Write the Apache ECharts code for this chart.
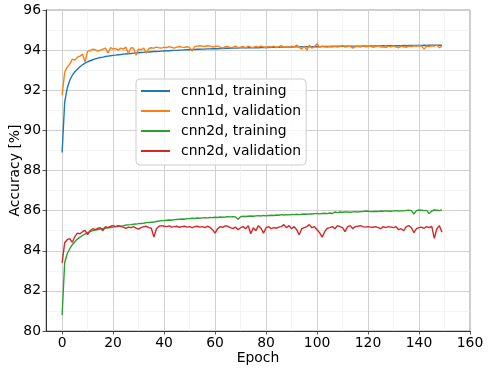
<!DOCTYPE html>
<html><head><meta charset="utf-8">
<script src="https://cdn.jsdelivr.net/npm/echarts@6/dist/echarts.min.js"></script>
<style>html,body{margin:0;padding:0;background:#fff}#c{width:488px;height:371px}</style>
</head><body><div id="c"></div>
<script>
const epochs = Array.from({length:150},(_, i) => i);
const xTicks = [0,20,40,60,80,100,120,140,160];
const yTicks = [80,82,84,86,88,90,92,94,96];
const seriesNames = ['cnn1d, training','cnn1d, validation','cnn2d, training','cnn2d, validation'];
const cnn1dTrain = [88.9,91.4,92.1,92.5,92.75,92.92,93.05,93.17,93.27,93.35,93.42,93.47,93.52,93.56,93.6,93.63,93.65,93.68,93.7,93.72,
93.74,93.75,93.77,93.78,93.8,93.81,93.82,93.83,93.85,93.86,93.87,93.88,93.89,93.9,93.91,93.92,93.93,93.93,93.94,93.95,
93.96,93.97,93.97,93.98,93.99,93.99,94.0,94.0,94.01,94.02,94.02,94.03,94.03,94.04,94.04,94.05,94.05,94.06,94.06,94.07,
94.07,94.07,94.08,94.08,94.09,94.09,94.09,94.1,94.1,94.1,94.11,94.11,94.11,94.12,94.12,94.12,94.13,94.12,94.13,94.13,
94.14,94.13,94.14,94.14,94.15,94.14,94.15,94.15,94.15,94.16,94.15,94.16,94.16,94.16,94.17,94.16,94.17,94.17,94.17,94.17,
94.18,94.17,94.18,94.18,94.18,94.18,94.19,94.18,94.19,94.19,94.19,94.19,94.2,94.19,94.2,94.2,94.2,94.2,94.2,94.21,
94.2,94.21,94.21,94.21,94.21,94.21,94.22,94.21,94.22,94.22,94.22,94.22,94.22,94.22,94.23,94.22,94.23,94.23,94.23,94.23,
94.23,94.23,94.24,94.23,94.24,94.24,94.24,94.24,94.24,94.24];
const cnn1dVal = [91.75,92.9,93.15,93.3,93.55,93.5,93.65,93.7,93.8,93.42,93.95,93.98,94.05,94.02,93.95,94.0,94.05,94.1,93.85,94.12,
94.05,94.08,94.0,94.1,94.05,94.15,93.82,94.12,94.1,93.75,94.05,94.02,94.1,93.85,94.08,94.12,94.1,94.15,94.12,94.1,
94.15,94.12,94.17,94.14,94.1,94.15,94.18,94.15,94.13,94.17,94.12,93.95,94.18,94.2,94.22,94.2,94.18,94.22,94.2,94.15,
94.18,94.2,94.15,94.1,94.17,94.18,94.12,94.15,94.2,94.12,94.15,94.18,94.1,94.2,94.15,94.13,94.18,94.15,94.2,94.16,
94.12,94.18,94.15,94.2,94.13,94.17,94.22,94.15,94.18,94.12,94.2,94.14,94.25,94.15,94.05,94.2,94.0,94.25,94.1,94.18,
94.32,94.15,94.2,94.17,94.15,94.18,94.16,94.2,94.15,94.18,94.24,94.15,94.18,94.2,94.1,94.17,94.19,94.15,94.22,94.16,
94.18,94.2,94.14,94.18,94.22,94.15,94.17,94.13,94.2,94.16,94.22,94.15,94.12,94.2,94.17,94.14,94.2,94.18,94.22,94.2,
94.23,94.2,94.05,94.2,94.18,94.22,94.2,94.25,94.12,94.2];
const cnn2dTrain = [80.8,83.4,83.85,84.1,84.3,84.45,84.58,84.68,84.76,84.83,84.9,84.95,85.0,85.03,85.06,85.08,85.1,85.12,85.14,85.16,
85.18,85.2,85.22,85.23,85.25,85.28,85.29,85.3,85.32,85.33,85.35,85.36,85.37,85.4,85.41,85.42,85.43,85.46,85.48,85.5,
85.5,85.52,85.53,85.52,85.55,85.56,85.57,85.58,85.57,85.6,85.6,85.62,85.61,85.63,85.62,85.64,85.65,85.64,85.66,85.65,
85.67,85.66,85.68,85.67,85.68,85.7,85.69,85.7,85.68,85.57,85.7,85.72,85.71,85.72,85.73,85.72,85.74,85.75,85.73,85.76,
85.74,85.76,85.77,85.76,85.78,85.77,85.8,85.78,85.8,85.79,85.81,85.8,85.82,85.8,85.82,85.83,85.82,85.84,85.83,85.85,
85.86,85.84,85.86,85.87,85.85,85.88,85.86,85.93,85.9,85.93,85.92,85.93,85.94,85.92,85.94,85.95,85.93,85.95,85.96,85.98,
85.97,85.95,85.96,85.97,85.96,85.98,85.97,85.99,85.98,85.97,85.99,86.0,85.98,86.0,85.99,86.01,86.02,86.0,85.83,86.0,
86.03,86.02,86.0,86.01,85.85,85.98,86.03,86.02,86.0,86.03];
const cnn2dVal = [83.4,84.4,84.55,84.6,84.42,84.7,84.88,84.85,84.95,85.02,84.8,85.0,85.1,85.05,85.12,85.15,85.0,85.2,85.15,85.22,
85.25,85.2,85.25,85.2,85.18,85.12,85.18,85.15,85.2,85.13,85.08,85.15,85.2,85.22,85.15,85.12,84.68,85.1,85.22,85.25,
85.22,85.2,85.24,85.18,85.2,85.22,85.17,85.2,85.22,85.18,85.2,85.15,85.2,85.22,85.18,85.2,85.15,85.22,85.17,85.05,
84.88,85.1,85.2,85.17,85.24,85.22,85.15,85.1,85.18,85.05,85.15,85.2,85.1,85.25,84.85,85.15,85.0,85.25,85.12,84.88,
85.15,85.2,85.1,85.15,85.12,85.18,85.2,85.3,85.15,85.25,85.1,85.2,85.05,84.8,85.1,85.15,85.2,85.3,85.15,85.2,
85.05,84.9,84.68,84.95,85.12,85.15,85.2,85.1,85.25,85.2,85.15,84.95,85.2,85.25,85.1,85.2,85.22,85.25,85.2,85.18,
85.2,85.18,85.17,85.2,85.15,85.1,85.2,85.15,85.2,85.18,85.15,85.2,85.05,85.1,85.0,85.2,85.25,85.15,84.9,85.1,
85.15,85.18,85.12,85.2,85.15,85.22,84.62,85.1,85.25,84.92];
const seriesData = [cnn1dTrain, cnn1dVal, cnn2dTrain, cnn2dVal];
const colors = ['#1f77b4','#ff7f0e','#2ca02c','#d62728'];

const FONT = 'DejaVu Sans';
const gridPos = {top:10, bottom:40, right:18};
const fullLeft = 43;
const xMinFull = -7.5, xMaxFull = xTicks[xTicks.length-1];
const plotW = 488 - fullLeft - gridPos.right;
const innerLeft = fullLeft + (0 - xMinFull) * plotW / (xMaxFull - xMinFull);

const chart = echarts.init(document.getElementById('c'), null, {renderer:'canvas'});
chart.setOption({
  animation:false,
  backgroundColor:'#ffffff',
  textStyle:{fontFamily:FONT},
  grid:[
    {left:fullLeft, right:gridPos.right, top:gridPos.top, bottom:gridPos.bottom, show:true, borderColor:'#9a9a9a', borderWidth:1, backgroundColor:'transparent', containLabel:false},
    {left:innerLeft, right:gridPos.right, top:gridPos.top, bottom:gridPos.bottom, containLabel:false}
  ],
  legend:{
    orient:'vertical', left:136, top:79,
    data:seriesNames.map((n, k) => ({name:n, icon:'rect', itemStyle:{color:colors[k]}})),
    itemWidth:29, itemHeight:2, itemGap:6,
    padding:[5,5,7,5],
    backgroundColor:'rgba(255,255,255,0.8)',
    borderColor:'#cccccc', borderWidth:1, borderRadius:4,
    textStyle:{fontFamily:FONT, fontSize:13.9, lineHeight:14, color:'#000', padding:[0,0,0,6]},
    z:10
  },
  xAxis:[
    {gridIndex:0, type:'value', min:xMinFull, max:xMaxFull,
     name:'Epoch', nameLocation:'middle', nameGap:20,
     nameTextStyle:{fontFamily:FONT, fontSize:13.9, color:'#000', verticalAlign:'top'},
     axisLine:{show:true, onZero:false, lineStyle:{color:'#333', width:1}},
     axisTick:{show:false}, axisLabel:{show:false}, splitLine:{show:false}, minorSplitLine:{show:false}},
    {gridIndex:1, type:'value', min:xTicks[0], max:xMaxFull, interval:20,
     axisLine:{show:false, onZero:false},
     axisTick:{show:true, length:3.5, inside:false, lineStyle:{color:'#333', width:0.8}},
     axisLabel:{show:true, fontFamily:FONT, fontSize:13.9, color:'#000', margin:5},
     splitLine:{show:true, lineStyle:{color:'#d0d0d0', width:1}},
     minorTick:{show:false, splitNumber:2},
     minorSplitLine:{show:true, lineStyle:{color:'#ececec', width:0.6}}}
  ],
  yAxis:[
    {gridIndex:0, type:'value', min:yTicks[0], max:yTicks[yTicks.length-1], interval:2,
     name:'Accuracy [%]', nameLocation:'middle', nameGap:24, nameRotate:90, nameMoveOverlap:false,
     nameTextStyle:{fontFamily:FONT, fontSize:13.9, color:'#000'},
     axisLine:{show:true, onZero:false, lineStyle:{color:'#333', width:1}},
     axisTick:{show:true, length:3.5, lineStyle:{color:'#333', width:0.8}},
     axisLabel:{show:true, fontFamily:FONT, fontSize:13.9, color:'#000', margin:5},
     splitLine:{show:true, lineStyle:{color:'#d0d0d0', width:1}},
     minorTick:{show:false, splitNumber:2},
     minorSplitLine:{show:true, lineStyle:{color:'#ececec', width:0.6}}},
    {gridIndex:1, type:'value', min:yTicks[0], max:yTicks[yTicks.length-1], interval:2,
     axisLine:{show:false, onZero:false}, axisTick:{show:false}, axisLabel:{show:false},
     splitLine:{show:false}, minorSplitLine:{show:false}}
  ],
  series: seriesNames.map((n, k) => ({
    name:n, type:'line', xAxisIndex:1, yAxisIndex:1,
    data: epochs.map((e, i) => [e, seriesData[k][i]]),
    symbol:'none', showSymbol:false,
    lineStyle:{color:colors[k], width:1.4},
    itemStyle:{color:colors[k]},
    z:3+k
  }))
});
</script></body></html>
